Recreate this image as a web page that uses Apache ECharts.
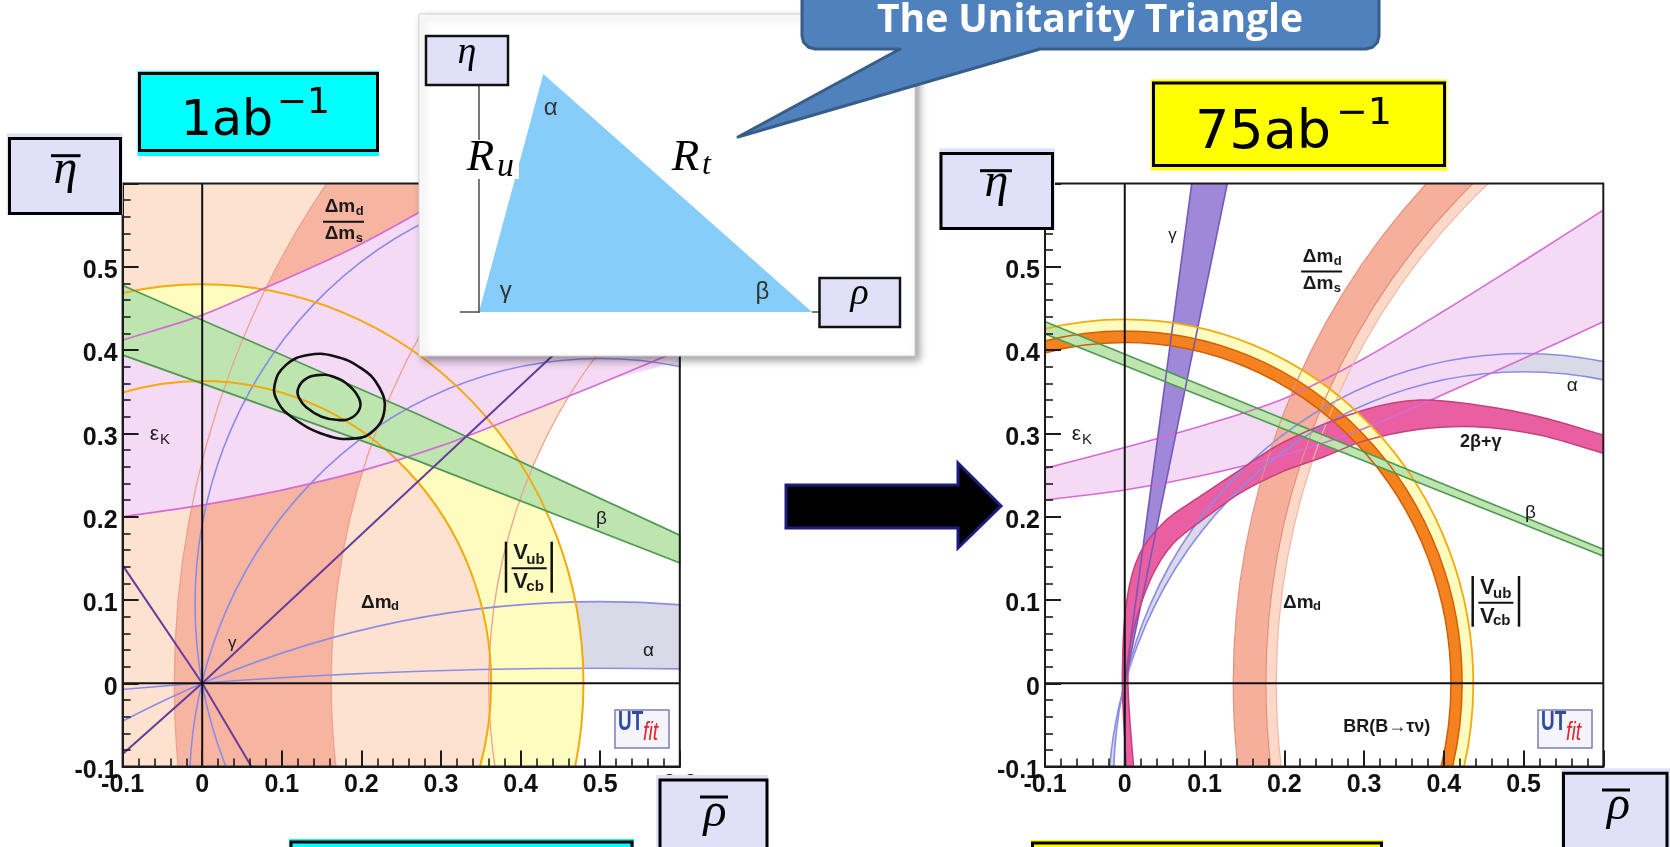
<!DOCTYPE html>
<html>
<head>
<meta charset="utf-8">
<title>Unitarity triangle fits</title>
<script src="https://cdn.jsdelivr.net/npm/echarts/dist/echarts.min.js"></script>
<style>
  html, body { margin: 0; padding: 0; background: #ffffff; }
  #chart { width: 1670px; height: 847px; }
</style>
</head>
<body>
<div id="chart"></div>
<script>
// ---------- shared axes ----------
const axisRange = [-0.1, 0.6];
const axisTickLabels = ['-0.1', '0', '0.1', '0.2', '0.3', '0.4', '0.5', '0.6'];

// ---------- 1 ab^-1 panel ----------
// circular bands: [centre rho, centre eta, inner radius, outer radius]
const dmdRing1 = [1, 0, 0.64, 1.5];
const dmsRing1 = [1, 0, 0.838, 1.035];
const vubRing1 = [0, 0, 0.363, 0.479];
// alpha solutions, circles through (0,0) and (1,0): [centre rho, centre eta, radius]
const alphaCircles1 = [[0.5, 0.095, 0.509], [0.5, -0.126, 0.516], [0.5, -1.227, 1.325], [0.5, -7.05, 7.068]];
const epsKUpper1 = [[-0.12, 0.406], [-0.1, 0.412], [0, 0.442], [0.08, 0.475], [0.18, 0.518], [0.27, 0.564], [0.36, 0.615]];
const epsKLower1 = [[-0.12, 0.197], [-0.1, 0.2], [0, 0.214], [0.1, 0.232], [0.2, 0.255], [0.3, 0.285], [0.4, 0.322], [0.5, 0.36], [0.62, 0.408]];
const betaUpper1 = [[-0.12, 0.486], [0.271, 0.323], [0.62, 0.169]];
const betaLower1 = [[-0.12, 0.401], [0.271, 0.267], [0.62, 0.137]];
const gammaLineA1 = [[-0.12, -0.102], [0, 0], [0.62, 0.554]];
const gammaLineB1 = [[-0.12, 0.17], [0, 0], [0.068, -0.11]];
const contour95 = [[0.091, 0.358], [0.105, 0.382], [0.133, 0.394], [0.165, 0.393], [0.2, 0.378], [0.222, 0.356], [0.229, 0.328], [0.215, 0.303], [0.192, 0.294], [0.155, 0.298], [0.112, 0.32], [0.095, 0.338]];
const contour68 = [[0.12, 0.352], [0.128, 0.364], [0.145, 0.37], [0.165, 0.368], [0.185, 0.357], [0.197, 0.342], [0.198, 0.33], [0.188, 0.319], [0.171, 0.316], [0.15, 0.32], [0.131, 0.331], [0.122, 0.342]];

// ---------- 75 ab^-1 panel ----------
const dmdRing75 = [1, 0, 0.823, 0.864];
const dmsRing75 = [1, 0, 0.81, 0.823];
const vubRing75 = [0, 0, 0.423, 0.437];
const tauNuRing75 = [0, 0, 0.409, 0.423];
const alphaCircles75 = [[0.5, -0.118, 0.514], [0.5, -0.147, 0.521]];
const epsKUpper75 = [[-0.12, 0.253], [-0.1, 0.258], [0, 0.283], [0.1, 0.31], [0.2, 0.342], [0.3, 0.39], [0.4, 0.447], [0.5, 0.507], [0.6, 0.568], [0.62, 0.58]];
const epsKLower75 = [[-0.12, 0.218], [-0.1, 0.22], [0, 0.232], [0.1, 0.25], [0.2, 0.274], [0.3, 0.306], [0.4, 0.347], [0.5, 0.39], [0.6, 0.434], [0.62, 0.443]];
const betaUpper75 = [[-0.12, 0.442], [0.62, 0.153]];
const betaLower75 = [[-0.12, 0.427], [0.62, 0.145]];
const gammaEdgeA75 = [[0, 0], [0.098, 0.7]];
const gammaEdgeB75 = [[0, 0], [0.15, 0.7]];
const tbgOuter75 = [[0.003, -0.12], [0.002, -0.1], [-0.003, 0], [0.002, 0.096], [0.019, 0.156], [0.052, 0.196], [0.094, 0.224], [0.144, 0.256], [0.2, 0.29], [0.3, 0.328], [0.37, 0.34], [0.45, 0.333], [0.52, 0.32], [0.6, 0.298], [0.62, 0.292]];
const tbgInner75 = [[0.013, -0.12], [0.011, -0.1], [0.004, 0], [0.009, 0.056], [0.032, 0.124], [0.061, 0.168], [0.103, 0.2], [0.144, 0.228], [0.2, 0.255], [0.25, 0.272], [0.3, 0.291], [0.37, 0.305], [0.44, 0.308], [0.52, 0.298], [0.6, 0.276], [0.62, 0.27]];

// ---------- colours ----------
const C = {
  alpha: '#D9D9E7', alphaLine: '#8C8CE8',
  peach: '#FDE2CF', salmon: '#F7B5A1', dmLine: '#EFA08F',
  salmon75: '#F5AF9B', light75: '#FCD8C9', dmLine75: '#E3917F',
  yellow: '#FEFCBF', vubLine: '#F4A90C',
  lilac: '#F4DAF5', epsLine: '#D66BD6',
  green: '#BEE5B0', betaLine: '#4E9A50',
  gammaLine: '#683C9E', gammaFill: '#A088D8', gammaEdge: '#7757BC',
  pink: '#EA5FA1', pinkLine: '#C5407E',
  orange: '#F4821F', orangeLine: '#D35E0A'
};

// ---------- drawing helpers (data -> pixels through the axes) ----------
function ellipseD(api, cx, cy, r, ccw) {
  const c = api.coord([cx, cy]);
  const s = api.size([r, r]);
  const rx = s[0], ry = s[1], x = c[0], y = c[1];
  const f = ccw ? 0 : 1;
  const pts = ccw
    ? [[x, y - ry], [x - rx, y], [x, y + ry], [x + rx, y]]
    : [[x, y + ry], [x - rx, y], [x, y - ry], [x + rx, y]];
  let d = 'M' + (x + rx).toFixed(2) + ' ' + y.toFixed(2);
  pts.forEach(p => { d += ' A' + rx.toFixed(2) + ' ' + ry.toFixed(2) + ' 0 0 ' + f + ' ' + p[0].toFixed(2) + ' ' + p[1].toFixed(2); });
  return d + ' Z';
}
const ringD = (api, g) => ellipseD(api, g[0], g[1], g[2], false) + ' ' + ellipseD(api, g[0], g[1], g[3], true);
const pairD = (api, a, b) => ellipseD(api, a[0], a[1], a[2], false) + ' ' + ellipseD(api, b[0], b[1], b[2], true);
const fillPath = (d, fill) => ({ type: 'path', shape: { pathData: d }, style: { fill: fill, stroke: 'none', lineWidth: 0 } });
const strokePath = (d, stroke, lw) => ({ type: 'path', shape: { pathData: d }, style: { fill: 'none', stroke: stroke, lineWidth: lw } });
const toPx = (api, pts) => pts.map(p => api.coord(p));
const fillPoly = (api, upper, lower, fill, smooth, extra) => ({
  type: 'polygon',
  shape: { points: toPx(api, upper.concat(extra || [], lower.slice().reverse())), smooth: smooth || 0 },
  style: { fill: fill, stroke: 'none', lineWidth: 0 }
});
const strokeLine = (api, pts, stroke, lw, smooth) => ({
  type: 'polyline', shape: { points: toPx(api, pts), smooth: smooth || 0 },
  style: { fill: 'none', stroke: stroke, lineWidth: lw }
});
const closedLine = (api, pts, stroke, lw, smooth) => ({
  type: 'polygon', shape: { points: toPx(api, pts), smooth: smooth || 0 },
  style: { fill: 'none', stroke: stroke, lineWidth: lw }
});
const circleLines = (api, circles, stroke, lw) => circles.map(c => strokePath(ellipseD(api, c[0], c[1], c[2], false), stroke, lw));
const ringLines = (api, g, stroke, lw) => [
  strokePath(ellipseD(api, g[0], g[1], g[2], false), stroke, lw),
  strokePath(ellipseD(api, g[0], g[1], g[3], false), stroke, lw)
];
const zeroLines = api => [
  { type: 'line', shape: { x1: api.coord([0, axisRange[0]])[0], y1: api.coord([0, axisRange[0]])[1], x2: api.coord([0, axisRange[1]])[0], y2: api.coord([0, axisRange[1]])[1] }, style: { stroke: '#111', lineWidth: 2 } },
  { type: 'line', shape: { x1: api.coord([axisRange[0], 0])[0], y1: api.coord([axisRange[0], 0])[1], x2: api.coord([axisRange[1], 0])[0], y2: api.coord([axisRange[1], 0])[1] }, style: { stroke: '#111', lineWidth: 2 } }
];

const series = [];
function layer(gi, z, draw) {
  series.push({
    type: 'custom', xAxisIndex: gi, yAxisIndex: gi, z: z, silent: true, clip: true,
    animation: false, data: [[0, 0]],
    renderItem: (params, api) => ({ type: 'group', children: draw(api) })
  });
}

// ----- 1 ab^-1 -----
layer(0, 2, api => [fillPath(pairD(api, alphaCircles1[0], alphaCircles1[1]), C.alpha),
                    fillPath(pairD(api, alphaCircles1[2], alphaCircles1[3]), C.alpha)]);
layer(0, 3, api => [fillPath(ringD(api, dmdRing1), C.peach)]);
layer(0, 3, api => [fillPath(ringD(api, dmsRing1), C.salmon)]);
layer(0, 4, api => [fillPath(ringD(api, vubRing1), C.yellow)]);
layer(0, 5, api => [fillPoly(api, epsKUpper1, epsKLower1, C.lilac, 0.3, [[0.7, 0.7]])]);
layer(0, 5, api => [fillPoly(api, betaUpper1, betaLower1, C.green, 0)]);
layer(0, 6, api => [].concat(
  [strokePath(ellipseD(api, dmdRing1[0], dmdRing1[1], dmdRing1[2], false), C.dmLine, 1.3)],
  ringLines(api, dmsRing1, C.dmLine, 1.3),
  circleLines(api, alphaCircles1, C.alphaLine, 1.6),
  ringLines(api, vubRing1, C.vubLine, 2),
  [strokeLine(api, epsKUpper1, C.epsLine, 1.7, 0.3), strokeLine(api, epsKLower1, C.epsLine, 1.7, 0.3)],
  [strokeLine(api, betaUpper1, C.betaLine, 1.7, 0), strokeLine(api, betaLower1, C.betaLine, 1.7, 0)],
  [strokeLine(api, gammaLineA1, C.gammaLine, 2, 0), strokeLine(api, gammaLineB1, C.gammaLine, 2, 0)]
));
layer(0, 7, api => [closedLine(api, contour95, '#111', 2.6, 0.45), closedLine(api, contour68, '#111', 2.6, 0.45)]);
layer(0, 8, zeroLines);

// ----- 75 ab^-1 -----
layer(1, 2, api => [fillPath(pairD(api, alphaCircles75[0], alphaCircles75[1]), C.alpha)]);
layer(1, 3, api => [fillPoly(api, epsKUpper75, epsKLower75, C.lilac, 0.3)]);
layer(1, 3, api => [fillPath(ringD(api, dmsRing75), C.light75), fillPath(ringD(api, dmdRing75), C.salmon75)]);
layer(1, 4, api => [fillPoly(api, gammaEdgeA75, gammaEdgeB75, C.gammaFill, 0)]);
layer(1, 4, api => [fillPoly(api, tbgOuter75, tbgInner75, C.pink, 0.3)]);
layer(1, 5, api => [fillPath(ringD(api, vubRing75), C.yellow), fillPath(ringD(api, tauNuRing75), C.orange)]);
layer(1, 5, api => [fillPoly(api, betaUpper75, betaLower75, C.green, 0)]);
layer(1, 6, api => [].concat(
  circleLines(api, alphaCircles75, C.alphaLine, 1.6),
  [strokeLine(api, epsKUpper75, C.epsLine, 1.6, 0.3), strokeLine(api, epsKLower75, C.epsLine, 1.6, 0.3)],
  ringLines(api, dmdRing75, C.dmLine75, 1.2),
  [strokePath(ellipseD(api, dmsRing75[0], dmsRing75[1], dmsRing75[2], false), '#F2B7A6', 1.2)],
  [strokeLine(api, gammaEdgeA75, C.gammaEdge, 1.6, 0), strokeLine(api, gammaEdgeB75, C.gammaEdge, 1.6, 0)],
  [strokeLine(api, tbgOuter75, C.pinkLine, 1.5, 0.3), strokeLine(api, tbgInner75, C.pinkLine, 1.5, 0.3)],
  ringLines(api, tauNuRing75, C.orangeLine, 1.5),
  [strokePath(ellipseD(api, vubRing75[0], vubRing75[1], vubRing75[3], false), C.vubLine, 1.8)],
  [strokeLine(api, betaUpper75, C.betaLine, 1.6, 0), strokeLine(api, betaLower75, C.betaLine, 1.6, 0)]
));
layer(1, 8, zeroLines);

// ---------- axes ----------
const tickColor = '#1b1b1b';
function valueAxis(gi, isX) {
  const label = {
    show: true, margin: isX ? 6 : 5, color: '#111', fontSize: 25, fontWeight: 'bold',
    fontFamily: '"Liberation Sans", Arial, sans-serif',
    formatter: v => axisTickLabels[Math.round(v * 10) + 1]
  };
  if (!isX) { label.verticalAlign = 'top'; label.lineHeight = 9; }
  return {
    gridIndex: gi, type: 'value', min: axisRange[0], max: axisRange[1], interval: 0.1, z: 10,
    axisLine: { show: true, onZero: false, lineStyle: { color: tickColor, width: 2 } },
    axisTick: { show: true, inside: true, length: 16, lineStyle: { color: tickColor, width: 2 } },
    minorTick: { show: true, splitNumber: 5, length: 8, lineStyle: { color: tickColor, width: 1.6 } },
    splitLine: { show: false }, minorSplitLine: { show: false },
    axisLabel: label
  };
}
const gridBase = { show: true, z: 10, backgroundColor: 'transparent', borderColor: tickColor, borderWidth: 2, containLabel: false, outerBoundsMode: 'none' };

// ---------- annotations ----------
const sans = '"Liberation Sans", Arial, sans-serif';
const serif = '"Liberation Serif", "DejaVu Serif", serif';
const G = [];
function txt(x, y, s, font, fill, align, z, sx) {
  const a = align || 'left';
  return { type: 'text', x: x, y: y, z: z || 30, silent: true, scaleX: sx || 1,
    style: { text: s, font: font, fill: fill || '#1a1a1a', align: a, verticalAlign: 'middle', textAlign: a, textVerticalAlign: 'middle' } };
}
function seg(x1, y1, x2, y2, stroke, lw, z) {
  return { type: 'line', z: z || 30, silent: true, shape: { x1: x1, y1: y1, x2: x2, y2: y2 }, style: { stroke: stroke, lineWidth: lw } };
}
function box(x, y, w, h, fill, stroke, lw, z, extra) {
  return { type: 'rect', z: z, silent: true, shape: { x: x, y: y, width: w, height: h },
    style: Object.assign({ fill: fill, stroke: stroke || 'none', lineWidth: lw || 0 }, extra || {}) };
}
const B19 = 'bold 19px ' + sans, B13 = 'bold 13px ' + sans, B22 = 'bold 22px ' + sans, B15 = 'bold 15px ' + sans;

function dmRatio(x, y) {
  G.push(txt(x, y, 'Δm', B19), txt(x + 31, y + 4.3, 'd', B13), seg(x - 1.7, y + 14.7, x + 39.3, y + 14.7, '#111', 2),
         txt(x, y + 27.2, 'Δm', B19), txt(x + 31, y + 31.5, 's', B13));
}
function vubLabel(xb1, xb2, y0, y1, x, yTop) {
  G.push(seg(xb1, y0, xb1, y1, '#111', 2.5), seg(xb2, y0, xb2, y1, '#111', 2.5),
         txt(x, yTop, 'V', B22), txt(x + 13, yTop + 6.5, 'ub', B15),
         seg(x - 1.7, yTop + 15.3, x + 33.4, yTop + 15.3, '#111', 2),
         txt(x, yTop + 29, 'V', B22), txt(x + 13, yTop + 33.5, 'cb', B15));
}
function utfit(x, y) {
  G.push(box(x, y, 54, 38, '#F4F4FA', '#7C7CBC', 1.5, 30),
         txt(x + 3, y + 13, 'UT', 'bold 27px ' + sans, '#2E4C9C', 'left', 31, 0.7),
         txt(x + 28, y + 23, 'fit', 'italic 25px ' + sans, '#E2262E', 'left', 31, 0.78));
}

// labels, 1 ab^-1
dmRatio(324.7, 207);
G.push(txt(149.7, 434, 'ε', '21px ' + sans), txt(160, 440, 'K', '15px ' + sans));
G.push(txt(596, 518.5, 'β', '19px ' + sans));
vubLabel(506, 551.7, 541.7, 592.7, 513.3, 553);
G.push(txt(361, 602.7, 'Δm', B19), txt(391, 606.7, 'd', B13));
G.push(txt(228, 643, 'γ', '17px ' + sans));
G.push(txt(643, 651, 'α', '19px ' + sans));
utfit(615, 710);

// labels, 75 ab^-1
G.push(txt(1168.3, 235.8, 'γ', '17px ' + sans));
dmRatio(1302.8, 256.7);
G.push(txt(1071.7, 434, 'ε', '21px ' + sans), txt(1082, 440, 'K', '15px ' + sans));
G.push(txt(1566.7, 385.3, 'α', '19px ' + sans));
G.push(txt(1460, 442.5, '2β+γ', 'bold 18px ' + sans));
G.push(txt(1525, 512.5, 'β', '19px ' + sans));
vubLabel(1472.7, 1519, 576, 626.7, 1480, 587.5);
G.push(txt(1283, 602.7, 'Δm', B19), txt(1313, 606.7, 'd', B13));
G.push(txt(1343.3, 726.7, 'BR(B→τν)', 'bold 18px ' + sans));
utfit(1538, 710);

// inset: the unitarity triangle sketch
G.push(box(419, 14, 496, 342, '#ffffff', '#d2d2d2', 1, 40,
  { shadowBlur: 8, shadowColor: 'rgba(0,0,0,0.38)', shadowOffsetX: 4, shadowOffsetY: 4 }));
G.push({ type: 'polygon', z: 41, silent: true, shape: { points: [[479, 312], [543.3, 74], [812, 312]] }, style: { fill: '#87CDF9' } });
G.push(seg(479, 86, 479, 313, '#4a4a4a', 1.5, 42), seg(460, 312, 479, 312, '#4a4a4a', 1.5, 42), seg(812, 312, 820, 312, '#4a4a4a', 1.5, 42));
G.push(box(466, 140, 53, 39, '#ffffff', null, 0, 43));
G.push(txt(466.7, 158, 'R', 'italic 45px ' + serif, '#000', 'left', 44), txt(497, 167.5, 'u', 'italic 34px ' + serif, '#000', 'left', 44));
G.push(txt(671.7, 158, 'R', 'italic 45px ' + serif, '#000', 'left', 44), txt(702, 165.4, 't', 'italic 32px ' + serif, '#000', 'left', 44));
G.push(txt(550.8, 108, 'α', '24px ' + sans, '#333', 'center', 44), txt(505.8, 291, 'γ', '24px ' + sans, '#333', 'center', 44),
       txt(762.5, 292, 'β', '24px ' + sans, '#333', 'center', 44));
G.push(box(426, 36, 82, 49, '#E0E0F8', '#111', 2.5, 43), txt(467, 53, 'η', 'italic 38px ' + serif, '#000', 'center', 44));
G.push(box(819.5, 278, 80.5, 49, '#E0E0F8', '#111', 2.5, 43), txt(859.5, 294, 'ρ', 'italic 38px ' + serif, '#000', 'center', 44));

// callout with its pointer
G.push({ type: 'polygon', z: 50, silent: true,
  shape: { points: [[802, -30], [1379, -30], [1379, 36], [1377.3, 42.5], [1372.5, 47.3], [1366, 49], [1040, 49], [738, 137], [900, 49],
                    [815, 49], [808.5, 47.3], [803.7, 42.5], [802, 36]] },
  style: { fill: '#4F81BD', stroke: '#385D8A', lineWidth: 3, lineJoin: 'round' } });
G.push(txt(1090, 21, 'The Unitarity Triangle', 'bold 39px "Open Sans", ' + sans, '#ffffff', 'center', 51));

// luminosity tags
G.push(box(137.5, 71, 241.5, 85, '#00FFFF', null, 0, 45), box(139.5, 73.5, 238, 77, 'none', '#000', 3, 46),
       txt(180.8, 122, '1ab', '49px "DejaVu Sans"', '#000', 'left', 47), txt(276.8, 104, '−1', '36px "DejaVu Sans"', '#000', 'left', 47));
G.push(box(1151, 79.5, 296, 91, '#FFFF00', null, 0, 45), box(1153.5, 83, 291, 82.5, 'none', '#000', 3, 46),
       txt(1195, 134, '75ab', '54px "DejaVu Sans"', '#000', 'left', 47), txt(1336, 114, '−1', '38px "DejaVu Sans"', '#000', 'left', 47));
G.push(box(289, 839, 345, 12, '#00FFFF', null, 0, 45), box(291, 842, 341, 20, 'none', '#000', 3, 46));
G.push(box(1031, 840, 352, 10, '#FFFF00', null, 0, 45), box(1032.5, 843, 349, 20, 'none', '#000', 3, 46));

// axis symbol tags
G.push(box(6.7, 133.3, 116, 81.7, '#E0E0F8', null, 0, 45), box(9.5, 138.5, 111, 75, 'none', '#000', 3, 46),
       txt(65.5, 170, 'η', 'italic 48px ' + serif, '#000', 'center', 47), seg(51, 155.7, 80.5, 155.7, '#000', 3, 47));
G.push(box(939, 148.3, 116, 81.7, '#E0E0F8', null, 0, 45), box(941, 153.5, 111.5, 75, 'none', '#000', 3, 46),
       txt(996.5, 183, 'η', 'italic 48px ' + serif, '#000', 'center', 47), seg(980, 170.7, 1012, 170.7, '#000', 3, 47));
G.push(box(656, 775, 112, 80, '#E0E0F8', null, 0, 45), box(660, 780, 107, 80, 'none', '#000', 3, 46),
       txt(715, 813, 'ρ', 'italic 48px ' + serif, '#000', 'center', 47), seg(700, 797, 728, 797, '#000', 3, 47));
G.push(box(1561, 768.3, 109, 85, '#E0E0F8', null, 0, 45), box(1563.5, 773.3, 103.5, 80, 'none', '#000', 3, 46),
       txt(1618.5, 806, 'ρ', 'italic 48px ' + serif, '#000', 'center', 47), seg(1602, 790, 1630, 790, '#000', 3, 47));

// arrow between the panels
G.push({ type: 'polygon', z: 45, silent: true,
  shape: { points: [[786, 485], [958, 485], [958, 463], [1001, 506], [958, 548], [958, 528], [786, 528]] },
  style: { fill: '#000000', stroke: '#1C1C7E', lineWidth: 3, lineJoin: 'miter' } });

const chart = echarts.init(document.getElementById('chart'), null, { renderer: 'canvas', width: 1670, height: 847 });
chart.setOption({
  animation: false,
  backgroundColor: '#ffffff',
  grid: [
    Object.assign({ left: 122.6, top: 183.5, width: 557.2, height: 583.1 }, gridBase),
    Object.assign({ left: 1045, top: 183.5, width: 558.3, height: 583.1 }, gridBase)
  ],
  xAxis: [valueAxis(0, true), valueAxis(1, true)],
  yAxis: [valueAxis(0, false), valueAxis(1, false)],
  series: series,
  graphic: { elements: G }
});
</script>
</body>
</html>
